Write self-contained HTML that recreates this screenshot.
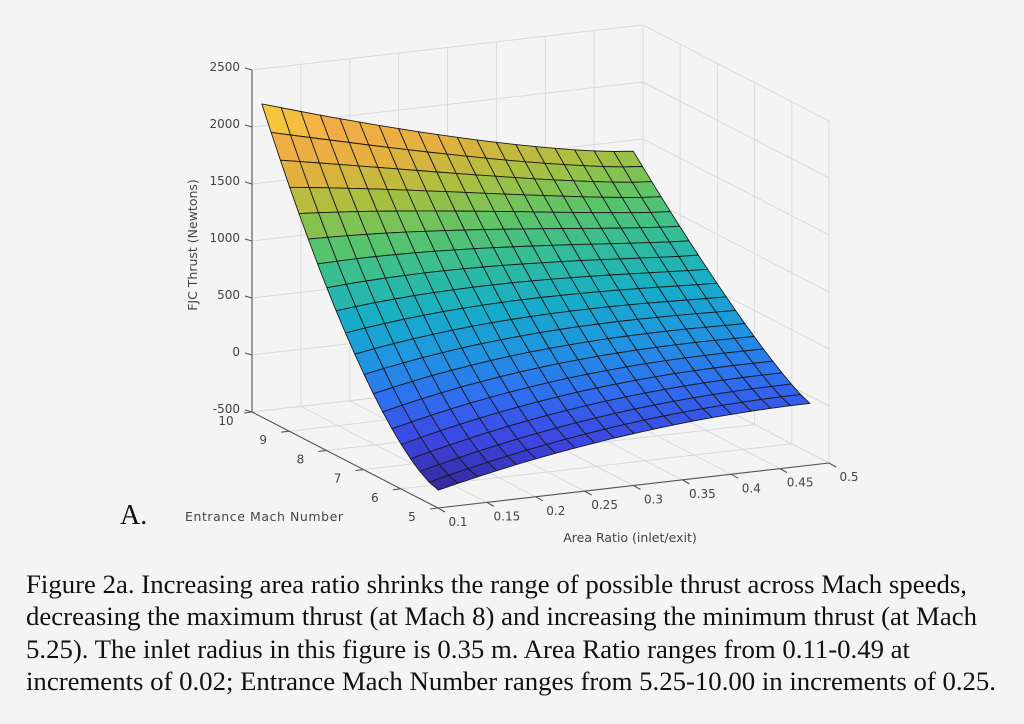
<!DOCTYPE html>
<html><head><meta charset="utf-8"><style>
html,body{margin:0;padding:0;background:#f4f4f4;}
svg{display:block;}
</style></head><body>
<svg id="s" width="1024" height="724" viewBox="0 0 1024 724" xmlns="http://www.w3.org/2000/svg">
<rect width="1024" height="724" fill="#f4f4f4"/>
<g id="grid" stroke="#dadada" stroke-width="1" fill="none"></g>
<g id="axes" stroke="#555" stroke-width="1.1" fill="none"></g>
<g id="surf" stroke="#1a1a1a" stroke-width="0.9" stroke-linejoin="round"></g>
<g id="labels" font-family="'DejaVu Sans','Liberation Sans',sans-serif" font-size="12" fill="#444"></g>
<text x="185" y="521" font-family="'DejaVu Sans','Liberation Sans',sans-serif" font-size="12.5" fill="#444" textLength="158">Entrance Mach Number</text>
<text x="630" y="542" text-anchor="middle" font-family="'DejaVu Sans','Liberation Sans',sans-serif" font-size="12.5" fill="#444">Area Ratio (inlet/exit)</text>
<text transform="translate(197,245) rotate(-90)" text-anchor="middle" font-family="'DejaVu Sans','Liberation Sans',sans-serif" font-size="12.5" fill="#444">FJC Thrust (Newtons)</text>
<text x="120" y="524" font-family="'Liberation Serif',serif" font-size="28" fill="#111">A.</text>
<g font-family="'Liberation Serif',serif" font-size="26.5" fill="#111">
<text x="26" y="593" textLength="941" lengthAdjust="spacingAndGlyphs">Figure 2a. Increasing area ratio shrinks the range of possible thrust across Mach speeds,</text>
<text x="26" y="625" textLength="951" lengthAdjust="spacingAndGlyphs">decreasing the maximum thrust (at Mach 8) and increasing the minimum thrust (at Mach</text>
<text x="26" y="658" textLength="884" lengthAdjust="spacingAndGlyphs">5.25). The inlet radius in this figure is 0.35 m. Area Ratio ranges from 0.11-0.49 at</text>
<text x="26" y="690" textLength="970" lengthAdjust="spacingAndGlyphs">increments of 0.02; Entrance Mach Number ranges from 5.25-10.00 in increments of 0.25.</text>
</g>
</svg>
<script>
(function(){
var NS="http://www.w3.org/2000/svg";
function P(x,M,z){return [252+(x-0.1)/0.4*391+(10-M)/5*186, 412-(x-0.1)/0.4*45+(10-M)/5*96-(z+500)/3000*342];}
function el(p,tag,a,txt){var e=document.createElementNS(NS,tag);for(var k in a)e.setAttribute(k,a[k]);if(txt!==undefined)e.textContent=txt;p.appendChild(e);return e;}
function line(p,a,b){el(p,'line',{x1:a[0].toFixed(1),y1:a[1].toFixed(1),x2:b[0].toFixed(1),y2:b[1].toFixed(1)});}
var g=document.getElementById('grid'),ax=document.getElementById('axes'),sf=document.getElementById('surf'),lb=document.getElementById('labels');
var xs=[0.1,0.15,0.2,0.25,0.3,0.35,0.4,0.45,0.5],Ms=[5,6,7,8,9,10],zs=[-500,0,500,1000,1500,2000,2500];
xs.forEach(function(x){line(g,P(x,10,-500),P(x,10,2500));});
zs.forEach(function(z){line(g,P(0.1,10,z),P(0.5,10,z));});
Ms.forEach(function(M){line(g,P(0.5,M,-500),P(0.5,M,2500));});
zs.forEach(function(z){line(g,P(0.5,10,z),P(0.5,5,z));});
xs.forEach(function(x){line(g,P(x,10,-500),P(x,5,-500));});
Ms.forEach(function(M){line(g,P(0.1,M,-500),P(0.5,M,-500));});
line(ax,P(0.1,10,-500),P(0.1,10,2500));
line(ax,P(0.1,10,-500),P(0.1,5,-500));
line(ax,P(0.1,5,-500),P(0.5,5,-500));
zs.forEach(function(z){var a=P(0.1,10,z);line(ax,a,[a[0]-7,a[1]-2]);
 el(lb,'text',{x:(a[0]-12).toFixed(1),y:(a[1]+1).toFixed(1),'text-anchor':'end'},String(z));});
Ms.forEach(function(M){var a=P(0.1,M,-500);line(ax,a,[a[0]-8,a[1]+1]);
 el(lb,'text',{x:(a[0]-26).toFixed(1),y:(a[1]+13).toFixed(1),'text-anchor':'middle'},String(M));});
xs.forEach(function(x){var a=P(x,5,-500);line(ax,a,[a[0]+7,a[1]+4]);
 el(lb,'text',{x:(a[0]+20).toFixed(1),y:(a[1]+18).toFixed(1),'text-anchor':'middle'},String(x));});
function Z(x,M){var u=(0.49-x)/0.38;var zf=-9-386*u*u;var zb=1403+790*Math.pow(u,1.3);var t=(M-5.25)/4.75;var p=1.25+0.3*u*u;return zf+(zb-zf)*Math.pow(Math.max(t,0),p);}
var stops=[[0,'#34289a'],[0.1,'#3d45e2'],[0.2,'#2f6ff0'],[0.3,'#1f95e0'],[0.4,'#16adc9'],[0.5,'#30bc9c'],[0.6,'#5cc468'],[0.7,'#a8c040'],[0.8,'#e4b03e'],[0.9,'#f2ac48'],[1,'#f6e030']];
function hx(h){return [parseInt(h.substr(1,2),16),parseInt(h.substr(3,2),16),parseInt(h.substr(5,2),16)];}
function col(v){v=Math.max(0,Math.min(1,v));for(var i=1;i<stops.length;i++){if(v<=stops[i][0]){var a=stops[i-1],b=stops[i],f=(v-a[0])/(b[0]-a[0]);var ca=hx(a[1]),cb=hx(b[1]);return 'rgb('+ca.map(function(c,k){return Math.round(c+(cb[k]-c)*f);}).join(',')+')';}}return stops[stops.length-1][1];}
var X=[],MM=[];for(var i=0;i<20;i++){X.push(0.11+0.02*i);MM.push(5.25+0.25*i);}
var zmin=-395,zmax=2193;
for(var j=19;j>0;j--){for(var i=0;i<19;i++){
 var x0=X[i],x1=X[i+1],m0=MM[j-1],m1=MM[j];
 var z00=Z(x0,m0),z10=Z(x1,m0),z11=Z(x1,m1),z01=Z(x0,m1);
 var zc=(z00+z10+z11+z01)/4;
 var pts=[P(x0,m0,z00),P(x1,m0,z10),P(x1,m1,z11),P(x0,m1,z01)].map(function(p){return p[0].toFixed(1)+','+p[1].toFixed(1);}).join(' ');
 el(sf,'polygon',{points:pts,fill:col((zc-zmin)/(zmax-zmin))});
}}
})();
</script>
</body></html>
